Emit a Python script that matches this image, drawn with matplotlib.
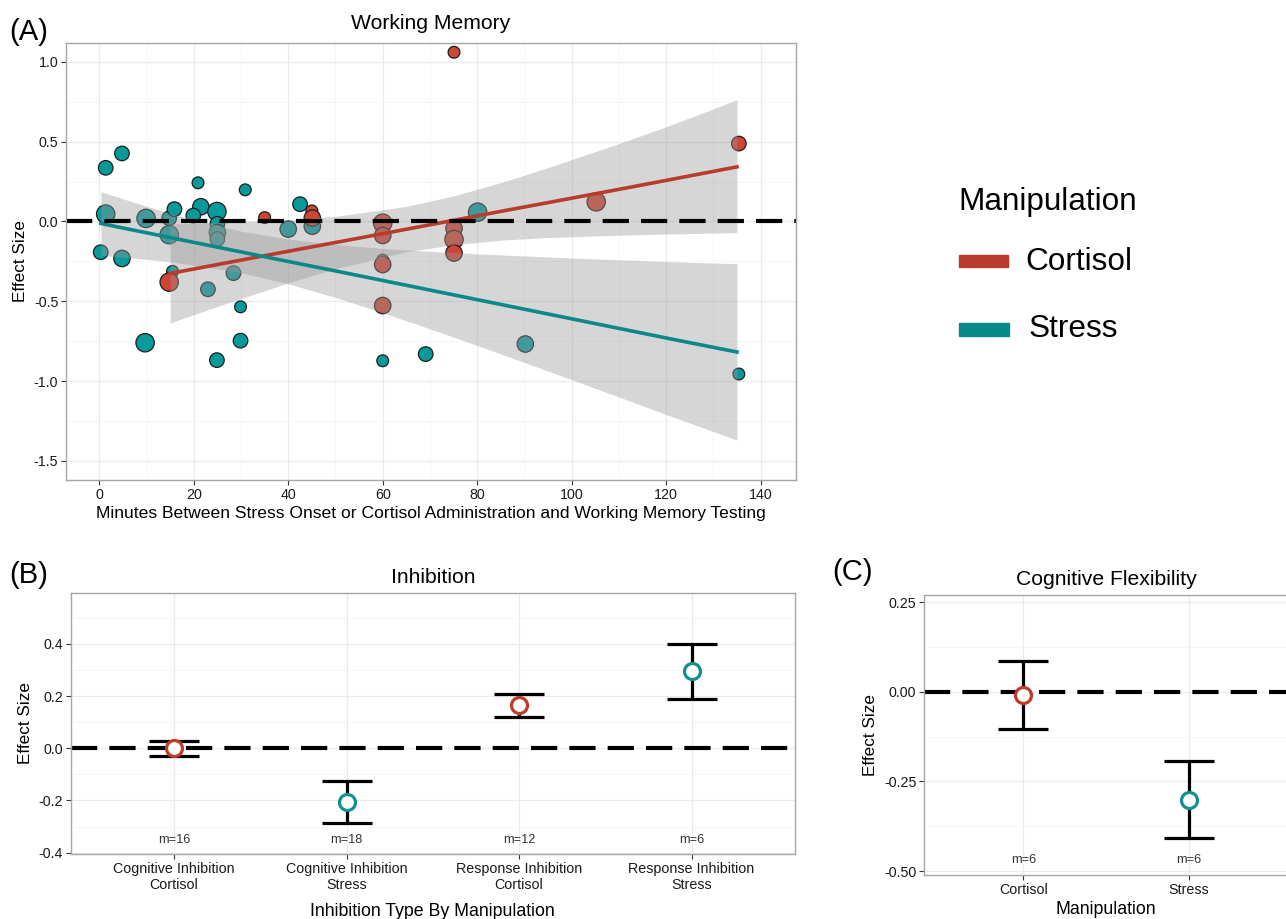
import matplotlib
matplotlib.use("Agg")
import matplotlib.pyplot as plt
from matplotlib.patches import Rectangle
import numpy as np

plt.rcParams['font.family'] = ['Liberation Sans', 'DejaVu Sans']
plt.rcParams['axes.unicode_minus'] = False

# ---- Panel A: working memory (minutes, effect size, weight level)
stress_x = [1.35, 4.8, 1.35, 9.9, 14.8, 14.8, 15.9, 20.9, 21.5, 19.9, 24.9, 25, 25, 25,
            30.9, 40, 42.5, 45.1, 0.3, 4.8, 15.5, 28.4, 23, 29.9, 9.7, 29.9, 24.9,
            60, 69.1, 80.1, 90.2, 135.4]
stress_y = [0.336, 0.426, 0.046, 0.019, 0.02, -0.083, 0.077, 0.242, 0.092, 0.037, 0.062,
            -0.015, -0.07, -0.11, 0.198, -0.048, 0.108, -0.03, -0.193, -0.232, -0.313,
            -0.324, -0.425, -0.535, -0.76, -0.747, -0.869, -0.873, -0.831, 0.058, -0.768, -0.956]
stress_w = [2, 2, 4, 4, 2, 4, 2, 1, 3, 2, 4, 2, 3, 2, 1, 3, 2, 3, 2, 3, 1, 2, 2, 1, 4,
            2, 2, 1, 2, 4, 3, 1]

cort_x = [35, 45, 45.1, 14.8, 75.1, 60, 60, 60, 60, 60, 75.1, 75.1, 75.1, 105.2, 135.4]
cort_y = [0.024, 0.066, 0.021, -0.38, 1.06, -0.011, -0.088, -0.242, -0.27, -0.527,
          -0.044, -0.113, -0.198, 0.123, 0.488]
cort_w = [1, 1, 3, 4, 1, 4, 3, 1, 3, 3, 3, 4, 3, 4, 2]

# fitted lines and confidence bands
cort_fit_x = [15, 27, 40, 50, 65, 75, 85, 95, 110, 120, 135]
cort_fit_y = [-0.326, -0.259, -0.187, -0.132, -0.049, 0.007, 0.063, 0.118, 0.201, 0.257, 0.342]
cort_fit_lo = [-0.636, -0.512, -0.385, -0.296, -0.19, -0.146, -0.117, -0.101, -0.086, -0.079, -0.07]
cort_fit_hi = [-0.016, -0.006, 0.011, 0.032, 0.094, 0.16, 0.243, 0.337, 0.488, 0.593, 0.762]

stress_fit_x = [0.35, 7, 15, 30, 40, 50, 60, 70, 80, 90, 100, 110, 122, 135]
stress_fit_y = [-0.013, -0.053, -0.101, -0.191, -0.251, -0.31, -0.37, -0.43, -0.49, -0.55,
                -0.61, -0.67, -0.742, -0.818]
stress_fit_lo = [-0.213, -0.229, -0.252, -0.321, -0.391, -0.476, -0.572, -0.673, -0.777,
                 -0.884, -0.991, -1.10, -1.231, -1.37]
stress_fit_hi = [0.187, 0.123, 0.05, -0.061, -0.111, -0.144, -0.169, -0.187, -0.203, -0.216,
                 -0.229, -0.24, -0.253, -0.265]

# ---- Panel B: inhibition
inhib_labels = ['Cognitive Inhibition\nCortisol', 'Cognitive Inhibition\nStress',
                'Response Inhibition\nCortisol', 'Response Inhibition\nStress']
inhib_manip = ['Cortisol', 'Stress', 'Cortisol', 'Stress']
inhib_est = [0.0, -0.207, 0.165, 0.297]
inhib_lo = [-0.029, -0.287, 0.121, 0.19]
inhib_hi = [0.028, -0.124, 0.208, 0.40]
inhib_m = [16, 18, 12, 6]

# ---- Panel C: cognitive flexibility
flex_labels = ['Cortisol', 'Stress']
flex_est = [-0.010, -0.301]
flex_lo = [-0.103, -0.407]
flex_hi = [0.0855, -0.193]
flex_m = [6, 6]

RED_PT, TEAL_PT = '#CD4535', '#08999A'
RED_LN, TEAL_LN = '#B83B2C', '#0B8888'
RED_O, TEAL_O = '#C23A2A', '#13918F'
size_of = {1: 72, 2: 110, 3: 140, 4: 175}

W, H = 1286, 919
fig = plt.figure(figsize=(W / 100, H / 100), dpi=100)


def rect(l, t, r, b):
    return [l / W, 1 - b / H, (r - l) / W, (b - t) / H]


def style(ax):
    for s in ax.spines.values():
        s.set_color('#A6A6A6')
        s.set_linewidth(1.0)
    ax.grid(True, which='major', color='#EBEBEB', lw=0.9)
    ax.grid(True, which='minor', color='#F5F5F5', lw=0.6)
    ax.set_axisbelow(True)
    ax.tick_params(which='major', direction='out', length=3.5, width=0.8,
                   color='#333333', labelsize=10.3, labelcolor='#1A1A1A', pad=2)
    ax.tick_params(which='minor', length=0)


def zero_line(ax):
    ax.axhline(0, color='black', lw=3, linestyle=(0, (6.3, 2.9)), zorder=2)


# ===== Panel A
axA = fig.add_axes(rect(66, 43, 796, 480))
style(axA)
axA.scatter(stress_x, stress_y, s=[size_of[w] for w in stress_w], c=TEAL_PT,
            edgecolors='#1E1E1E', linewidths=0.9, zorder=1)
axA.scatter(cort_x, cort_y, s=[size_of[w] for w in cort_w], c=RED_PT,
            edgecolors='#1E1E1E', linewidths=0.9, zorder=1)
axA.fill_between(cort_fit_x, cort_fit_lo, cort_fit_hi, color='#999999', alpha=0.4, lw=0, zorder=1.5)
axA.fill_between(stress_fit_x, stress_fit_lo, stress_fit_hi, color='#999999', alpha=0.4, lw=0, zorder=1.5)
axA.plot(cort_fit_x, cort_fit_y, color=RED_LN, lw=2.6, zorder=1.8)
axA.plot(stress_fit_x, stress_fit_y, color=TEAL_LN, lw=2.6, zorder=1.8)
zero_line(axA)
axA.set_xlim(-7.05, 147.5)
axA.set_ylim(-1.62, 1.118)
axA.set_xticks(np.arange(0, 141, 20))
axA.set_xticks(np.arange(10, 141, 20), minor=True)
axA.set_yticks([-1.5, -1.0, -0.5, 0.0, 0.5, 1.0])
axA.set_yticklabels(['-1.5', '-1.0', '-0.5', '0.0', '0.5', '1.0'])
axA.set_yticks([-1.25, -0.75, -0.25, 0.25, 0.75], minor=True)
axA.set_xlabel('Minutes Between Stress Onset or Cortisol Administration and Working Memory Testing',
               fontsize=12.6, labelpad=3)
axA.set_ylabel('Effect Size', fontsize=12.3, labelpad=4)
axA.set_title('Working Memory', fontsize=15.2, pad=10)

# legend
fig.text(958 / W, 1 - 202 / H, 'Manipulation', fontsize=22.7, va='center', ha='left')
fig.patches.append(Rectangle((959 / W, 1 - 267 / H), 49 / W, 12 / H, color=RED_LN,
                             transform=fig.transFigure, figure=fig))
fig.patches.append(Rectangle((959 / W, 1 - 336 / H), 50 / W, 13 / H, color=TEAL_LN,
                             transform=fig.transFigure, figure=fig))
fig.text(1025 / W, 1 - 262 / H, 'Cortisol', fontsize=22.7, va='center', ha='left')
fig.text(1029 / W, 1 - 329 / H, 'Stress', fontsize=22.7, va='center', ha='left')


def effect_panel(ax, labels, manip, est, lo, hi, m, m_y):
    xs = np.arange(1, len(labels) + 1)
    zero_line(ax)
    err = [np.array(est) - np.array(lo), np.array(hi) - np.array(est)]
    ax.errorbar(xs, est, yerr=err, fmt='none', ecolor='black', elinewidth=2.3,
                capsize=18, capthick=2.3, zorder=3)
    for x, e, g in zip(xs, est, manip):
        ax.plot(x, e, 'o', ms=11.5, mfc='white', mec=RED_O if g == 'Cortisol' else TEAL_O,
                mew=2.3, zorder=4)
    for x, n in zip(xs, m):
        ax.text(x, m_y, 'm=%d' % n, ha='center', va='center', fontsize=9.2, color='#333333')
    ax.set_xticks(xs)
    ax.set_xticklabels(labels)
    ax.set_xlim(0.4, len(labels) + 0.6)


# ===== Panel B
axB = fig.add_axes(rect(70.6, 592.7, 795, 854))
style(axB)
effect_panel(axB, inhib_labels, inhib_manip, inhib_est, inhib_lo, inhib_hi, inhib_m, -0.35)
axB.set_ylim(-0.405, 0.596)
axB.set_yticks([-0.4, -0.2, 0.0, 0.2, 0.4])
axB.set_yticklabels(['-0.4', '-0.2', '0.0', '0.2', '0.4'])
axB.set_yticks([-0.3, -0.1, 0.1, 0.3, 0.5], minor=True)
axB.set_xlabel('Inhibition Type By Manipulation', fontsize=12.8, labelpad=8)
axB.set_ylabel('Effect Size', fontsize=12.3, labelpad=4)
axB.set_title('Inhibition', fontsize=15.2, pad=7)

# ===== Panel C
axC = fig.add_axes(rect(924, 594.7, 1288.5, 875))
style(axC)
effect_panel(axC, flex_labels, ['Cortisol', 'Stress'], flex_est, flex_lo, flex_hi, flex_m, -0.47)
axC.set_ylim(-0.511, 0.2704)
axC.set_yticks([-0.5, -0.25, 0.0, 0.25])
axC.set_yticklabels(['-0.50', '-0.25', '0.00', '0.25'])
axC.set_yticks([-0.375, -0.125, 0.125], minor=True)
axC.set_xlabel('Manipulation', fontsize=12.8, labelpad=3)
axC.set_ylabel('Effect Size', fontsize=12.3, labelpad=4)
axC.set_title('Cognitive Flexibility', fontsize=15.2, pad=7)

# panel letters
fig.text(9 / W, 1 - 32 / H, '(A)', fontsize=21, va='center', ha='left')
fig.text(9 / W, 1 - 575 / H, '(B)', fontsize=21, va='center', ha='left')
fig.text(832 / W, 1 - 572 / H, '(C)', fontsize=21, va='center', ha='left')

fig.savefig('out.png', dpi=100)
